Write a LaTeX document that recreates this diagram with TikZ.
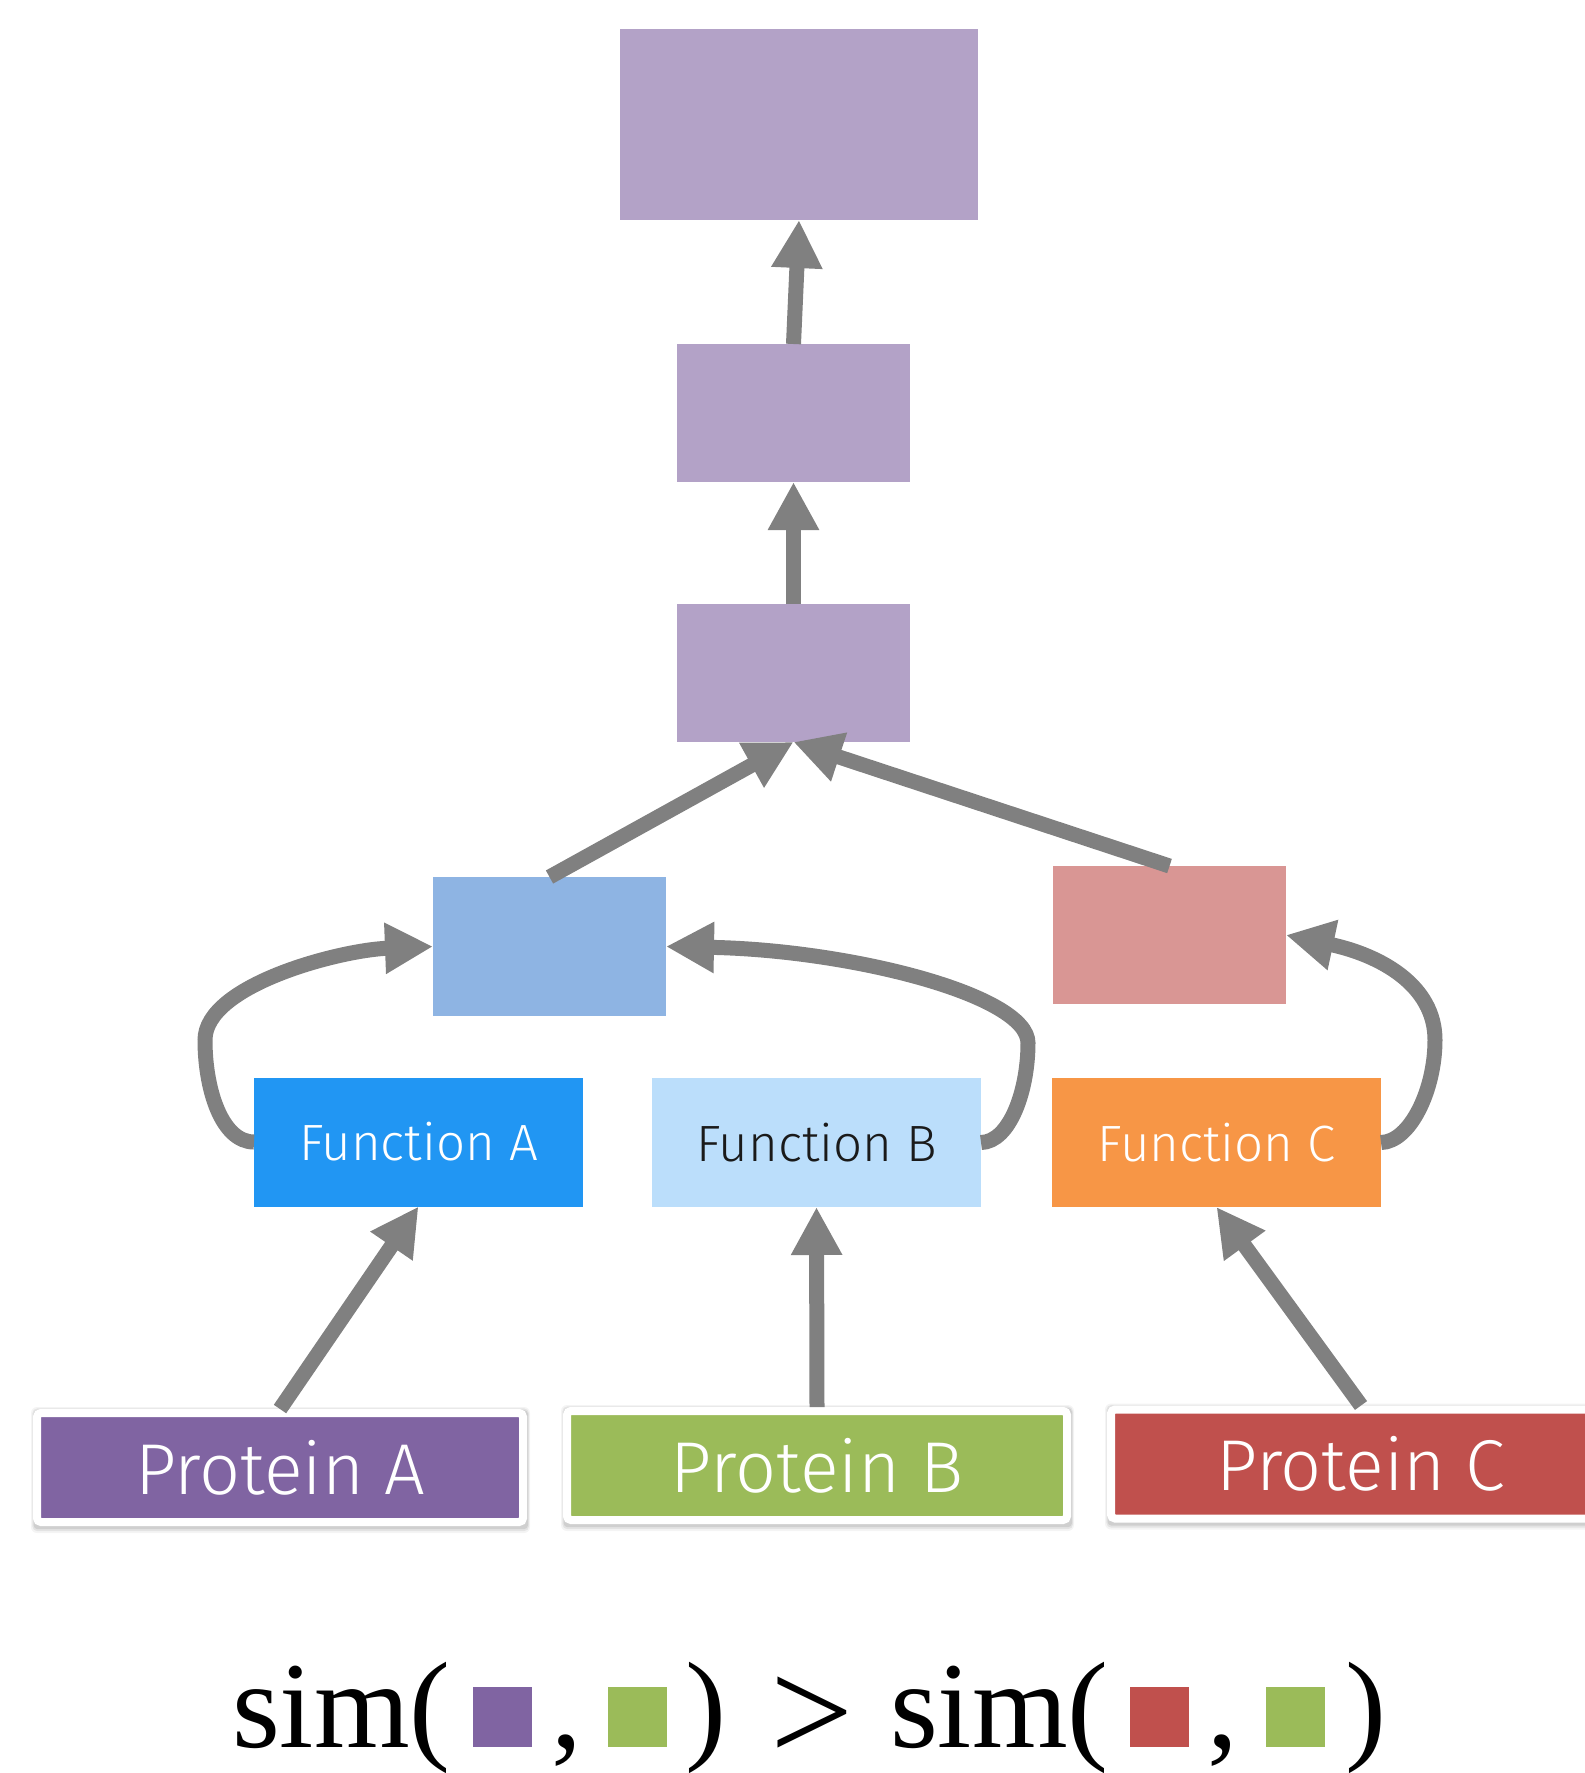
\documentclass[tikz,border=0pt]{standalone}
\usepackage{fontspec}
\newfontfamily\lightsans{Fira Sans Light}
\newfontfamily\formfont{Liberation Serif}
\usetikzlibrary{arrows.meta,backgrounds}
\definecolor{lav}{HTML}{B3A2C7}
\definecolor{lblue}{HTML}{8EB4E3}
\definecolor{lpink}{HTML}{D99694}
\definecolor{funA}{HTML}{2196F3}
\definecolor{funB}{HTML}{BBDEFB}
\definecolor{funC}{HTML}{F79646}
\definecolor{protA}{HTML}{8064A2}
\definecolor{protB}{HTML}{9BBB59}
\definecolor{protC}{HTML}{C0504D}
\definecolor{arrowgray}{HTML}{808080}
\definecolor{darktext}{HTML}{1A1A1A}
\begin{document}
\begin{tikzpicture}[x=0.5pt,y=-0.5pt,
  box/.style={rectangle, inner sep=0pt, outer sep=0pt},
  smallbox/.style={box, minimum width=116.5pt, minimum height=69pt},
  conn/.style={draw=arrowgray, line width=7.5pt, -{Triangle[length=24pt,width=24pt]}},
  funbox/.style={box, minimum width=164.5pt, minimum height=64.5pt,
    font=\lightsans\fontsize{25.5pt}{30pt}\selectfont, text=white},
  protbox/.style={rectangle, draw=white, line width=4pt, rounded corners=2pt,
    minimum width=243pt, minimum height=54.5pt, inner sep=0pt,
    font=\lightsans\fontsize{36pt}{42pt}\selectfont, text=white},
  shade1/.style={fill=black, opacity=0.045, rounded corners=3pt},
  shade2/.style={fill=black, opacity=0.07, rounded corners=2.5pt},
  shade3/.style={fill=black, opacity=0.09, rounded corners=2pt},
  formula/.style={inner sep=0pt, outer sep=0pt, anchor=base west,
    font=\formfont\fontsize{61.5pt}{70pt}\selectfont},
  sq/.style={box, minimum width=29.5pt, minimum height=30pt, anchor=south west}
]
\useasboundingbox (0,0) rectangle (1585,1773);

% upper hierarchy boxes
\node[box, fill=lav, minimum width=179pt, minimum height=95.5pt] (top) at (799,124.5) {};
\node[smallbox, fill=lav] (mid) at (793.5,413) {};
\node[smallbox, fill=lav] (low) at (793.5,673) {};
\node[smallbox, fill=lblue, minimum height=69.5pt] (lb) at (549.5,946.5) {};
\node[smallbox, fill=lpink] (pk) at (1169.5,935) {};

% function boxes
\node[funbox, fill=funA] (fa) at (418.5,1142) {Function A};
\node[funbox, fill=funB, text=darktext] (fb) at (816.5,1142.5) {Function B};
\node[funbox, fill=funC] (fc) at (1216.5,1142.5) {Function C};

% protein boxes
\node[protbox, fill=protA] (pa) at (280,1467.5) {Protein A};
\node[protbox, fill=protB, minimum width=250pt] (pb) at (817,1465.5) {Protein B};
\node[protbox, fill=protC, minimum width=250pt] (pc) at (1361,1464) {Protein C};

% soft shadows behind the protein frames
\begin{scope}[on background layer]
\foreach \p in {pa,pb,pc}{
  \fill[shade1] ([xshift=-1pt,yshift=1pt]\p.north west) rectangle ([xshift=1.5pt,yshift=-3.5pt]\p.south east);
  \fill[shade2] ([xshift=-0.3pt,yshift=0.3pt]\p.north west) rectangle ([xshift=1pt,yshift=-2.6pt]\p.south east);
  \fill[shade3] ([xshift=0.3pt,yshift=-0.5pt]\p.north west) rectangle ([xshift=0.5pt,yshift=-1.6pt]\p.south east);
}
\end{scope}

% straight connectors
\draw[conn] (mid.north) -- (top.south);
\draw[conn] (low.north) -- (mid.south);
\draw[conn] (lb.north) -- (low.south);
\draw[conn] (pk.north) -- (low.south);
\draw[conn] (pa.north) -- (fa.south);
\draw[conn] (pb.north) -- (fb.south);
\draw[conn] (pc.north) -- (fc.south);

% curved connectors
\draw[conn] (fa.west) .. controls (222,1142) and (205,1090) .. (205,1040)
  .. controls (205,985) and (340,950) .. (lb.west);
\draw[conn] (fb.east) .. controls (1010,1142) and (1028,1090) .. (1028,1043)
  .. controls (1028,995) and (850,950) .. (lb.east);
\draw[conn] (fc.east) .. controls (1410,1142) and (1435,1090) .. (1435,1040)
  .. controls (1435,985) and (1380,955) .. (pk.east);

% formula
\node[formula] (s1) at (232,1747) {sim(};
\node[sq, fill=protA] (q1) at (473,1747) {};
\node[formula] (c1) at (551,1747) {,};
\node[sq, fill=protB] (q2) at (608,1747) {};
\node[formula] (r1) at (685,1747) {)};
\node[formula] (gt) at (770,1747) {\raisebox{-7pt}{\scalebox{1.2}[1.2]{>}}};
\node[formula] (s2) at (890,1747) {sim(};
\node[sq, fill=protC] (q3) at (1130,1747) {};
\node[formula] (c2) at (1207,1747) {,};
\node[sq, fill=protB] (q4) at (1266,1747) {};
\node[formula] (r2) at (1345,1747) {)};
\end{tikzpicture}
\end{document}
